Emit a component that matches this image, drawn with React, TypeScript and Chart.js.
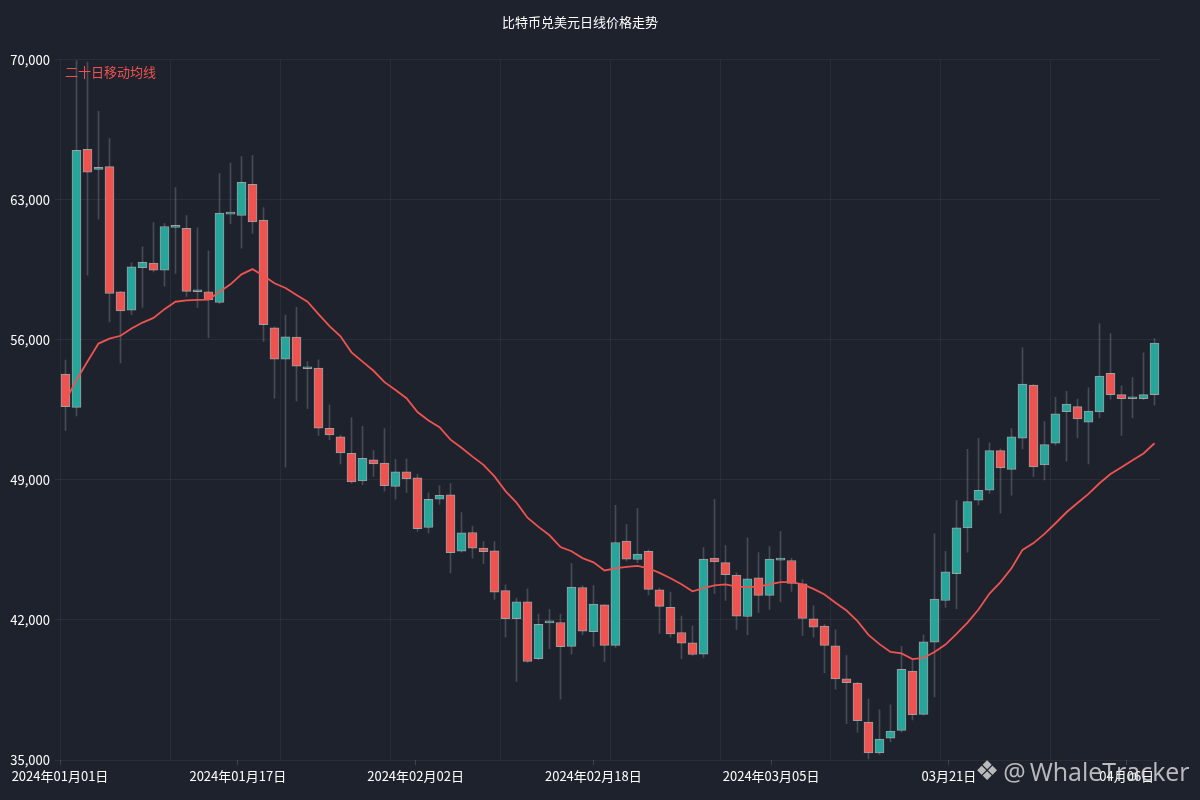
import React, { useEffect, useRef } from 'react';
import Chart from 'chart.js/auto';

// daily OHLC
const opens = [
  54290, 52620, 65520, 64510, 64650, 58400, 57480, 59600, 59830, 59480,
  61620, 61570, 58400, 58400, 57870, 62280, 62210, 63770, 61980, 56590,
  55030, 56130, 54550, 54590, 51580, 51150, 50320, 48940, 50000, 49840,
  48670, 49400, 49100, 46620, 48030, 48250, 45430, 46370, 45590, 45450,
  43460, 42060, 42910, 40060, 41850, 41870, 40680, 43620, 41410, 42750,
  40730, 45940, 45020, 45430, 43500, 42630, 41370, 40860, 40290, 45090,
  44860, 44240, 42170, 44100, 43230, 44990, 44970, 43800, 42060, 41690,
  40700, 39050, 38840, 36890, 35350, 36090, 36480, 39440, 37280, 40890,
  42970, 44310, 46600, 47980, 48480, 50460, 49520, 51080, 53740, 49750,
  50830, 52410, 52660, 51880, 52390, 54320, 53260, 53050, 53050, 53260,
];
const highs = [
  54980, 69950, 69880, 67420, 66050, 58420, 59850, 60650, 61850, 61800,
  63610, 62210, 61590, 60440, 64300, 64830, 65150, 65200, 62600, 56650,
  57230, 57620, 54910, 55000, 52750, 51240, 52110, 51680, 50460, 51560,
  50020, 50050, 49290, 48350, 48710, 48810, 47360, 46690, 45910, 45910,
  43750, 43090, 43550, 42290, 42520, 42290, 44810, 43710, 43710, 42770,
  47730, 46760, 47570, 45500, 43590, 43390, 42190, 41710, 45620, 48030,
  45710, 44350, 46100, 45360, 45660, 46420, 45090, 44010, 42700, 41780,
  41500, 40220, 38890, 38040, 37510, 37760, 40680, 39990, 41250, 46300,
  45430, 47960, 50530, 51080, 50850, 50550, 51560, 55600, 53760, 51910,
  53120, 53420, 53030, 53600, 56790, 56310, 53700, 54110, 55350, 56060,
];
const lows = [
  51470, 52200, 59230, 62030, 56890, 54840, 57250, 57620, 59390, 58680,
  59320, 58170, 57620, 56110, 57800, 61800, 60580, 61320, 55920, 53080,
  49630, 52940, 52570, 51220, 51010, 49790, 48830, 48760, 49170, 48440,
  48030, 48370, 46420, 46350, 47770, 44350, 45380, 45090, 44810, 43020,
  41140, 38930, 39880, 40000, 40560, 38040, 40290, 41250, 40680, 39920,
  40630, 44930, 44860, 43250, 41320, 41140, 40060, 40220, 40130, 43320,
  42970, 41530, 41250, 42380, 42520, 42900, 43430, 41230, 41140, 39350,
  38540, 36820, 36390, 35050, 35280, 35900, 36390, 37000, 37240, 38150,
  42630, 42560, 45390, 47750, 48320, 47340, 48230, 50550, 49170, 48990,
  50730, 49930, 51100, 49790, 52110, 53030, 51220, 52090, 53010, 52730,
];
const closes = [
  52660, 65470, 64370, 64620, 58310, 57440, 59640, 59870, 59480, 61660,
  61620, 58420, 58400, 57990, 62330, 62280, 63870, 61890, 56750, 55030,
  56150, 54680, 54550, 51580, 51240, 50340, 48900, 50070, 49790, 48710,
  49400, 49060, 46560, 48030, 48230, 45360, 46350, 45590, 45410, 43390,
  42060, 42910, 39920, 41780, 41850, 40660, 43640, 41440, 42790, 40730,
  45870, 45040, 45290, 43530, 42680, 41300, 40840, 40270, 45040, 44900,
  44260, 42190, 44050, 43230, 45040, 44990, 43820, 42080, 41640, 40730,
  39050, 38870, 36960, 35350, 36040, 36450, 39530, 37260, 40910, 43040,
  44400, 46600, 47910, 48480, 50460, 49590, 51150, 53790, 49650, 50760,
  52300, 52780, 52040, 52430, 54180, 53260, 53050, 53050, 53260, 55830,
];
const ma20 = [
  52960, 53990, 54910, 55810, 56060, 56200, 56560, 56860, 57090, 57530,
  57900, 57970, 57990, 58010, 58400, 58770, 59270, 59530, 59200, 58820,
  58590, 58240, 57900, 57280, 56680, 56170, 55370, 54910, 54450, 53880,
  53490, 53080, 52390, 51970, 51630, 51010, 50600, 50160, 49750, 49170,
  48440, 47860, 47110, 46650, 46230, 45640, 45430, 45090, 44880, 44470,
  44580, 44650, 44700, 44580, 44350, 44080, 43780, 43430, 43590, 43730,
  43780, 43660, 43640, 43660, 43780, 43890, 43890, 43780, 43550, 43270,
  42860, 42470, 41940, 41250, 40790, 40400, 40330, 40040, 40100, 40400,
  40770, 41300, 41870, 42520, 43320, 43890, 44580, 45500, 45840, 46300,
  46830, 47380, 47840, 48300, 48830, 49290, 49630, 49980, 50320, 50830,
];

const titleText = '比特币兑美元日线价格走势';
const maName = '二十日移动均线';
const days = opens.map((_, i) => `第${i + 1}天`);
const xTickIndex = [0, 16, 32, 48, 64, 80, 96];
const xTickLabels = [
  '2024年01月01日', '2024年01月17日', '2024年02月02日', '2024年02月18日',
  '2024年03月05日', '03月21日', '04月06日',
];

const BG = '#1e222d';
const UP = '#26a69a';
const DOWN = '#ef5350';
const GRID = 'rgba(255, 255, 255, 0.05)';
const FONT = '"Noto Sans CJK SC", "Noto Sans", sans-serif';

// MA name written inside the plot, top left
const maLabel = {
  id: 'maLabel',
  afterDatasetsDraw(chart: any) {
    const { ctx, chartArea } = chart;
    ctx.save();
    ctx.font = `13px ${FONT}`;
    ctx.fillStyle = DOWN;
    ctx.textBaseline = 'middle';
    ctx.fillText(maName, chartArea.left + 5, chartArea.top + 12);
    ctx.restore();
  },
};

const App: React.FC = () => {
  const chartRef = useRef<HTMLCanvasElement | null>(null);

  useEffect(() => {
    document.body.style.margin = '0';
    document.body.style.background = BG;
    let chart: Chart | null = null;

    if (chartRef.current) {
      const ctx = chartRef.current.getContext('2d');
      if (ctx) {
        const bodyColors = opens.map((o, i) => (closes[i] >= o ? UP : DOWN));
        chart = new Chart(ctx, {
          type: 'bar',
          data: {
            labels: days,
            datasets: [
              {
                type: 'line',
                label: maName,
                data: ma20,
                borderColor: DOWN,
                borderWidth: 1.8,
                pointRadius: 0,
                tension: 0,
                order: 0,
              } as any,
              {
                label: '实体',
                data: opens.map((o, i) => [o, closes[i]]),
                backgroundColor: bodyColors,
                borderColor: 'rgba(225, 225, 225, 0.65)',
                borderWidth: 1,
                borderSkipped: false,
                barThickness: 9,
                minBarLength: 2,
                grouped: false,
                order: 1,
              },
              {
                label: '影线',
                data: lows.map((l, i) => [l, highs[i]]),
                backgroundColor: 'rgba(150, 150, 160, 0.35)',
                borderWidth: 0,
                barThickness: 1,
                grouped: false,
                order: 2,
              },
            ],
          },
          options: {
            animation: false,
            responsive: true,
            maintainAspectRatio: false,
            layout: { padding: { right: 40 } },
            plugins: {
              legend: { display: false },
              tooltip: { enabled: false },
              title: {
                display: true,
                text: titleText,
                color: '#ffffff',
                font: { size: 13, weight: 'normal', family: FONT },
                padding: { top: 14, bottom: 30 },
              },
            },
            scales: {
              x: {
                type: 'category',
                offset: true,
                grid: {
                  offset: true,
                  drawTicks: false,
                  color: (c: any) => (c.index % 10 === 0 ? GRID : 'transparent'),
                },
                border: { display: false },
                ticks: { display: false },
                afterFit: (axis: any) => {
                  axis.height = 0;
                },
              },
              xl: {
                type: 'linear',
                axis: 'x',
                position: 'bottom',
                offset: false,
                min: 0,
                max: days.length - 1,
                afterBuildTicks: (axis: any) => {
                  axis.ticks = xTickIndex.map((v) => ({ value: v }));
                },
                ticks: {
                  color: '#ffffff',
                  font: { size: 13, family: FONT },
                  padding: 3,
                  maxRotation: 0,
                  autoSkip: false,
                  callback: (_v: any, i: number) => xTickLabels[i],
                },
                grid: {
                  offset: false,
                  drawOnChartArea: false,
                  tickLength: 5,
                  color: 'rgba(255, 255, 255, 0.15)',
                },
                border: { display: false },
                afterFit: (axis: any) => {
                  axis.height = 40;
                },
              },
              y: {
                min: 35000,
                max: 70000,
                ticks: {
                  stepSize: 7000,
                  color: '#ffffff',
                  padding: 5,
                  font: { size: 13, family: FONT },
                  callback: (v: any) => Number(v).toLocaleString('en-US'),
                },
                grid: { color: GRID, tickLength: 5 },
                border: { display: false },
                afterFit: (axis: any) => {
                  axis.width = 60;
                },
              },
            },
          },
          plugins: [maLabel],
        });
      }
    }

    return () => {
      if (chart) {
        chart.destroy();
      }
    };
  }, []);

  return (
    <div style={{ position: 'relative', width: 1200, height: 800, background: BG }}>
      <canvas ref={chartRef} />
      <div
        style={{
          position: 'absolute',
          left: 975,
          top: 756,
          display: 'flex',
          alignItems: 'center',
          color: 'rgba(225, 225, 225, 0.8)',
          fontFamily: '"Open Sans", sans-serif',
          fontSize: 25,
          lineHeight: '30px',
          pointerEvents: 'none',
        }}
      >
        <span style={{ fontFamily: '"DejaVu Sans", sans-serif', fontSize: 27, marginRight: 4 }}>❖</span>
        <span>@</span>
        <span style={{ marginLeft: 4 }}>WhaleTracker</span>
      </div>
    </div>
  );
};

export default App;
